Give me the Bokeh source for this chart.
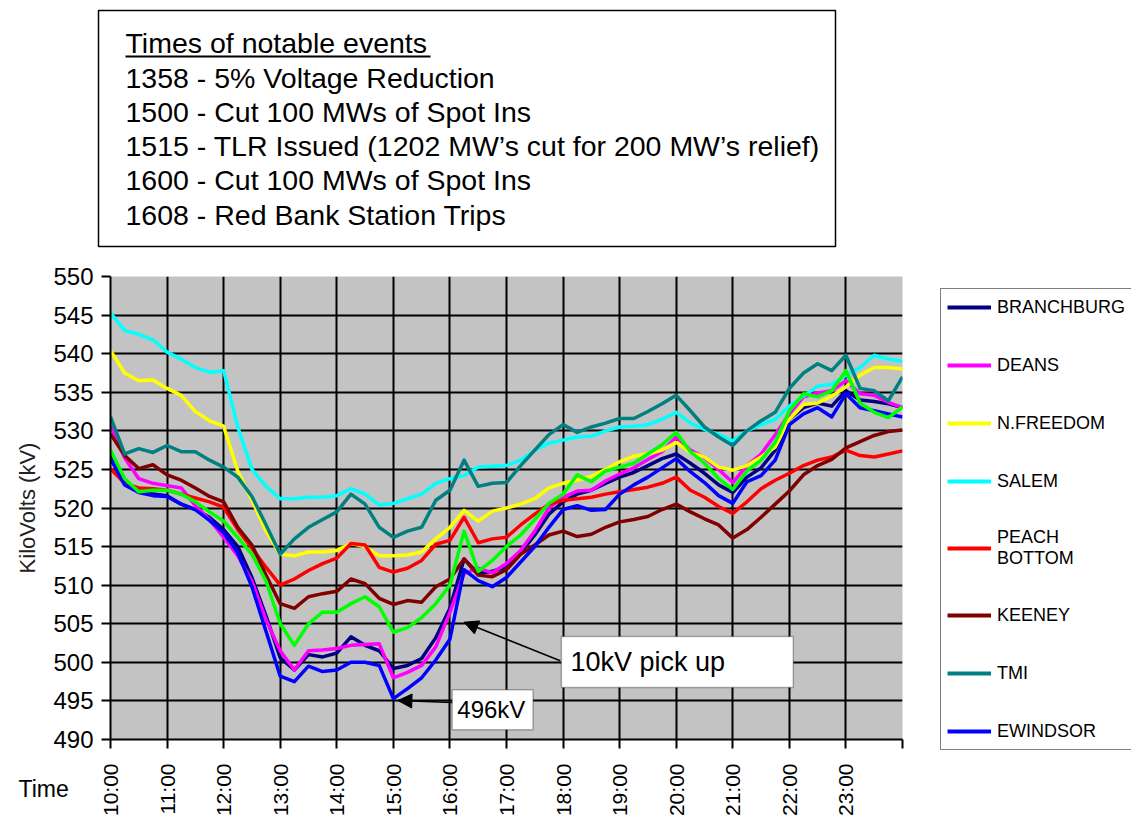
import math
from bokeh.plotting import figure
from bokeh.models import (Range1d, FixedTicker, Legend, LegendItem, Label,
                          BoxAnnotation, Arrow, NormalHead)
from bokeh.layouts import column, row
from bokeh.embed import file_html
from bokeh.resources import INLINE

# ---------------- data ----------------
# sample times (hours), every 15 minutes from 10:00 to 24:00
times = [10 + 0.25 * i for i in range(57)]

branchburg = [527.0, 523.5, 522.2, 521.8, 521.6, 520.5, 519.8, 518.8, 517.2,
              515.0, 511.0, 506.0, 500.6, 499.0, 501.0, 500.7, 501.2,
              503.3, 502.2, 501.5, 499.2, 499.6, 500.5, 503.2, 507.0,
              513.4, 511.5, 511.8, 512.3, 514.2, 516.5, 519.2, 520.8,
              521.8, 522.3, 523.2, 524.0, 524.6, 525.5, 526.4, 527.0,
              525.8, 524.5, 523.0, 522.0, 524.0, 525.2, 527.5, 531.5,
              533.0, 533.6, 533.2, 535.2, 534.0, 533.8, 533.5, 533.0]
deans = [530.7, 526.5, 523.8, 523.2, 522.9, 522.6, 520.3, 518.5, 516.2,
         513.8, 510.5, 505.5, 501.5, 499.0, 501.5, 501.6, 501.8,
         502.2, 502.3, 502.4, 498.0, 498.7, 499.6, 502.0, 506.5,
         511.5, 512.2, 511.6, 512.8, 514.5, 517.0, 520.0, 521.4,
         522.2, 522.3, 523.5, 524.4, 525.2, 526.3, 527.3, 529.2,
         527.5, 526.5, 525.0, 523.3, 525.5, 527.0, 529.5, 532.2,
         534.4, 534.9, 535.2, 536.5, 534.8, 534.6, 533.7, 533.0]
n_freedom = [540.4, 537.5, 536.5, 536.6, 535.5, 534.6, 532.5, 531.3, 530.6,
             524.8, 521.0, 517.0, 514.0, 513.8, 514.3, 514.3, 514.5,
             515.4, 515.0, 513.8, 513.8, 513.9, 514.3, 516.0, 517.5,
             519.7, 518.3, 519.6, 520.0, 520.5, 521.2, 522.6, 523.2,
             523.6, 524.1, 525.0, 526.0, 526.7, 527.0, 527.5, 528.5,
             527.2, 526.6, 525.3, 524.9, 525.5, 526.6, 527.9, 531.5,
             533.4, 533.6, 534.5, 535.7, 537.2, 538.2, 538.2, 538.0]
salem = [545.3, 543.0, 542.5, 541.8, 540.2, 539.3, 538.2, 537.6, 537.8,
         530.5, 525.0, 522.8, 521.2, 521.2, 521.4, 521.4, 521.6,
         522.5, 521.8, 520.4, 520.6, 521.2, 521.8, 523.2, 523.8,
         524.2, 525.3, 525.4, 525.5, 526.2, 527.5, 528.4, 528.8,
         529.2, 529.3, 530.0, 530.5, 530.6, 530.8, 531.5, 532.4,
         531.0, 530.2, 529.5, 528.7, 530.0, 530.8, 531.5, 533.2,
         534.5, 535.8, 536.0, 537.2, 538.2, 539.8, 539.3, 539.0]
peach_bottom = [525.1, 523.2, 522.6, 522.5, 522.3, 521.8, 521.3, 520.8, 520.1,
                517.2, 514.8, 512.3, 510.0, 510.8, 511.9, 512.8, 513.5,
                515.4, 515.2, 512.3, 511.7, 512.2, 513.2, 515.3, 515.8,
                518.8, 515.5, 516.0, 516.2, 517.8, 519.2, 520.5, 521.0,
                521.2, 521.4, 521.8, 522.1, 522.4, 522.7, 523.2, 524.0,
                522.3, 521.4, 520.2, 519.3, 520.8, 522.5, 523.6, 524.5,
                525.5, 526.2, 526.6, 527.5, 526.8, 526.6, 527.0, 527.4]
keeney = [529.6, 526.8, 525.1, 525.6, 524.3, 523.6, 522.6, 521.5, 520.8,
          517.5, 515.2, 511.3, 507.6, 507.0, 508.5, 508.9, 509.2,
          510.8, 510.2, 508.3, 507.5, 508.0, 507.8, 509.8, 510.8,
          513.4, 511.3, 511.1, 512.0, 514.0, 515.2, 516.5, 517.0,
          516.3, 516.6, 517.5, 518.2, 518.5, 518.9, 519.8, 520.5,
          519.5, 518.6, 517.8, 516.1, 517.2, 518.8, 520.5, 522.2,
          524.3, 525.5, 526.3, 527.8, 528.6, 529.4, 529.9, 530.1]
tmi = [531.8, 527.0, 527.7, 527.2, 528.1, 527.3, 527.3, 526.2, 525.3,
       524.0, 521.5, 517.8, 514.0, 516.0, 517.5, 518.5, 519.5,
       521.8, 520.5, 517.5, 516.2, 517.0, 517.5, 521.0, 522.3,
       526.2, 522.8, 523.2, 523.3, 525.5, 527.5, 529.5, 530.8,
       529.8, 530.5, 531.0, 531.6, 531.6, 532.5, 533.5, 534.6,
       532.6, 530.5, 529.2, 528.1, 530.0, 531.3, 532.4, 535.5,
       537.5, 538.7, 537.8, 539.8, 535.5, 535.2, 533.9, 537.0]
ewindsor = [526.4, 523.0, 522.0, 521.6, 521.5, 520.5, 519.8, 518.4, 516.8,
            514.2, 509.8, 504.0, 498.2, 497.5, 499.5, 498.8, 499.0,
            500.0, 500.0, 499.6, 495.3, 496.6, 498.0, 500.3, 503.0,
            512.0, 510.6, 509.8, 511.0, 513.0, 515.0, 517.5, 519.8,
            520.3, 519.7, 519.8, 521.8, 523.0, 524.0, 525.2, 526.4,
            524.7, 523.3, 521.6, 520.6, 523.4, 524.2, 526.2, 530.8,
            532.2, 533.0, 531.8, 534.8, 533.0, 532.6, 532.2, 531.8]
unlabeled_green = [527.5, 523.8, 522.1, 522.3, 522.3, 521.8, 520.8, 519.5, 518.3,
                   516.2, 514.0, 510.5, 505.0, 502.2, 505.0, 506.5, 506.5,
                   507.6, 508.5, 507.2, 503.9, 504.5, 505.8, 507.6, 510.0,
                   517.0, 511.8, 513.2, 515.0, 516.5, 518.5, 520.6, 521.8,
                   524.3, 523.4, 524.8, 525.3, 525.8, 527.0, 528.2, 529.8,
                   527.3, 525.8, 523.8, 522.4, 524.8, 526.2, 528.5, 532.6,
                   534.8, 534.4, 535.2, 537.8, 533.6, 532.4, 531.7, 533.1]

series_names = ["BRANCHBURG", "DEANS", "N.FREEDOM", "SALEM", "PEACH\nBOTTOM",
                "KEENEY", "TMI", "EWINDSOR"]
series_values = [branchburg, deans, n_freedom, salem, peach_bottom,
                 keeney, tmi, ewindsor]
series_colors = ["#000080", "#FF00FF", "#FFFF00", "#00FFFF", "#FF0000",
                 "#800000", "#008080", "#0000FF"]

tick_hours = list(range(10, 25))
tick_labels = ["10:00", "11:00", "12:00", "13:00", "14:00", "15:00", "16:00",
               "17:00", "18:00", "19:00", "20:00", "21:00", "22:00", "23:00", ""]
y_ticks = list(range(490, 551, 5))
x_title = "Time"
y_title = "KiloVolts (kV)"

events_title = "Times of notable events"
event_lines = ["1358 - 5% Voltage Reduction",
               "1500 - Cut 100 MWs of Spot Ins",
               "1515 - TLR Issued (1202 MW\u2019s cut for 200 MW\u2019s relief)",
               "1600 - Cut 100 MWs of Spot Ins",
               "1608 - Red Bank Station Trips"]

FONT = "Liberation Sans"
W = 1131
TOP_H = 248
MAIN_H = 505           # canvas 248 .. 753
STRIP_H = 819 - TOP_H - MAIN_H
LEFT = 110
P_W = 904              # frame 110 .. 902
RIGHT = W - 902
TIME_W = 88


def plain(fig):
    fig.grid.visible = False
    fig.frame_align = False
    return fig


# ---------------- top text box ----------------
top = plain(figure(width=W, height=TOP_H, x_range=Range1d(0, W),
                   y_range=Range1d(TOP_H, 0), x_axis_type=None, y_axis_type=None,
                   output_backend="svg", toolbar_location=None, min_border=0,
                   outline_line_color=None))
top.quad(left=[98], right=[835], top=[10], bottom=[246],
         fill_color="white", line_color="black", line_width=1.5)
top.add_layout(Label(x=125, y=42, text=events_title, text_baseline="middle",
                     text_font=FONT, text_font_size="28.5px", text_color="black"))
top.line(x=[125, 430], y=[56, 56], line_color="black", line_width=2)
for i, t in enumerate(event_lines):
    top.add_layout(Label(x=125, y=77 + i * 34.3, text=t, text_baseline="middle",
                         text_font=FONT, text_font_size="28.5px",
                         text_color="black"))

# ---------------- main chart ----------------
p = figure(width=P_W, height=MAIN_H, x_range=Range1d(10, 24),
           y_range=Range1d(490, 550), output_backend="svg",
           toolbar_location=None, min_border_left=LEFT, min_border_right=2,
           min_border_top=276 - TOP_H, min_border_bottom=14,
           background_fill_color="#C3C3C3", outline_line_color=None)
p.frame_align = False

# x axis of the main chart: tick marks only (labels are on the strip below)
p.xaxis.ticker = FixedTicker(ticks=tick_hours)
p.xaxis.major_label_overrides = {h: "" for h in tick_hours}
p.xaxis.major_label_text_font_size = "1px"
p.xaxis.major_label_standoff = 0
p.yaxis.ticker = FixedTicker(ticks=y_ticks)
p.yaxis.major_label_text_font_size = "24px"
p.yaxis.axis_label = y_title
p.yaxis.axis_label_text_font_size = "22px"
p.yaxis.axis_label_text_font_style = "normal"
p.yaxis.axis_label_text_font = FONT
p.yaxis.axis_label_text_color = "#222222"
p.yaxis.axis_label_standoff = 10
p.yaxis.major_label_standoff = 8
for ax in (p.xaxis, p.yaxis):
    ax.major_label_text_font = FONT
    ax.major_label_text_color = "black"
    ax.axis_line_color = "black"
    ax.axis_line_width = 2
    ax.major_tick_line_color = "black"
    ax.major_tick_line_width = 2
    ax.major_tick_in = 0
    ax.major_tick_out = 9
    ax.minor_tick_line_color = None

p.xgrid.ticker = FixedTicker(ticks=list(range(11, 24)))
p.xgrid.grid_line_color = "black"
p.xgrid.grid_line_width = 2
p.ygrid.grid_line_color = "black"
p.ygrid.grid_line_width = 2

for vals, col in zip(series_values, series_colors):
    p.line(times, vals, line_color=col, line_width=3.5, line_join="round")
p.line(times, unlabeled_green, line_color="#00FF00", line_width=3.5,
       line_join="round")

# callouts
p.add_layout(BoxAnnotation(left=17.97, right=22.07, top=503.35, bottom=496.74,
                           fill_color="white", fill_alpha=1.0,
                           line_color="black", line_width=1.5))
p.add_layout(Label(x=18.13, y=500.1, text="10kV pick up", text_baseline="middle",
                   text_font=FONT, text_font_size="27px", text_color="black"))
p.add_layout(Arrow(end=NormalHead(size=14, fill_color="black", line_color="black"),
                   x_start=17.95, y_start=500.2, x_end=16.25, y_end=505.2,
                   line_color="black", line_width=1.5))
p.add_layout(BoxAnnotation(left=16.04, right=17.47, top=496.44, bottom=491.26,
                           fill_color="white", fill_alpha=1.0,
                           line_color="black", line_width=1.5))
p.add_layout(Label(x=16.13, y=493.9, text="496kV", text_baseline="middle",
                   text_font=FONT, text_font_size="24px", text_color="black"))
p.add_layout(Arrow(end=NormalHead(size=14, fill_color="black", line_color="black"),
                   x_start=16.04, y_start=494.8, x_end=15.08, y_end=495.05,
                   line_color="black", line_width=1.5))

# ---------------- legend panel (right of the chart) ----------------
# the same series are drawn here outside the visible range, only to feed
# the legend with their line samples
leg = plain(figure(width=W - P_W, height=MAIN_H, x_range=Range1d(0, 1),
                   y_range=Range1d(0, 1), x_axis_type=None, y_axis_type=None,
                   output_backend="svg", toolbar_location=None, min_border=0,
                   outline_line_color=None))
samples = [leg.line(times, vals, line_color=c, line_width=4)
           for vals, c in zip(series_values, series_colors)]
legend = Legend(items=[LegendItem(label=n, renderers=[r])
                       for n, r in zip(series_names, samples)],
                location=(36, 3), orientation="vertical",
                glyph_width=44, glyph_height=24, label_height=24,
                spacing=34, padding=6, label_standoff=6, margin=0,
                border_line_color="black", border_line_width=1.5,
                background_fill_color="white", background_fill_alpha=1.0,
                label_text_font=FONT, label_text_font_size="18px",
                label_text_color="black")
leg.add_layout(legend)

# ---------------- bottom strip: "Time" + hour labels ----------------
time_fig = plain(figure(width=TIME_W, height=STRIP_H, x_range=Range1d(0, TIME_W),
                        y_range=Range1d(STRIP_H, 0), x_axis_type=None,
                        y_axis_type=None, output_backend="svg",
                        toolbar_location=None, min_border=0,
                        outline_line_color=None))
time_fig.add_layout(Label(x=18, y=35, text=x_title, text_baseline="middle",
                          text_font=FONT, text_font_size="23px",
                          text_color="black"))

xlab = plain(figure(width=W - TIME_W, height=STRIP_H, x_range=p.x_range,
                    y_range=Range1d(0, 1), y_axis_type=None,
                    output_backend="svg", toolbar_location=None,
                    min_border_left=LEFT - TIME_W, min_border_right=RIGHT,
                    min_border_top=0, min_border_bottom=0,
                    outline_line_color=None))
xlab.xaxis.ticker = FixedTicker(ticks=tick_hours)
xlab.xaxis.major_label_overrides = {h: lab for h, lab in zip(tick_hours, tick_labels)}
xlab.xaxis.major_label_orientation = math.pi / 2
xlab.xaxis.major_label_text_font_size = "21px"
xlab.xaxis.major_label_text_font = FONT
xlab.xaxis.major_label_text_color = "black"
xlab.xaxis.major_label_standoff = 5
xlab.xaxis.axis_line_color = None
xlab.xaxis.major_tick_line_color = None
xlab.xaxis.minor_tick_line_color = None
xlab.xaxis.major_tick_out = 0
xlab.xaxis.major_tick_in = 0

layout = column(top, row(p, leg), row(time_fig, xlab))
open("out.html", "w").write(file_html(layout, INLINE))
